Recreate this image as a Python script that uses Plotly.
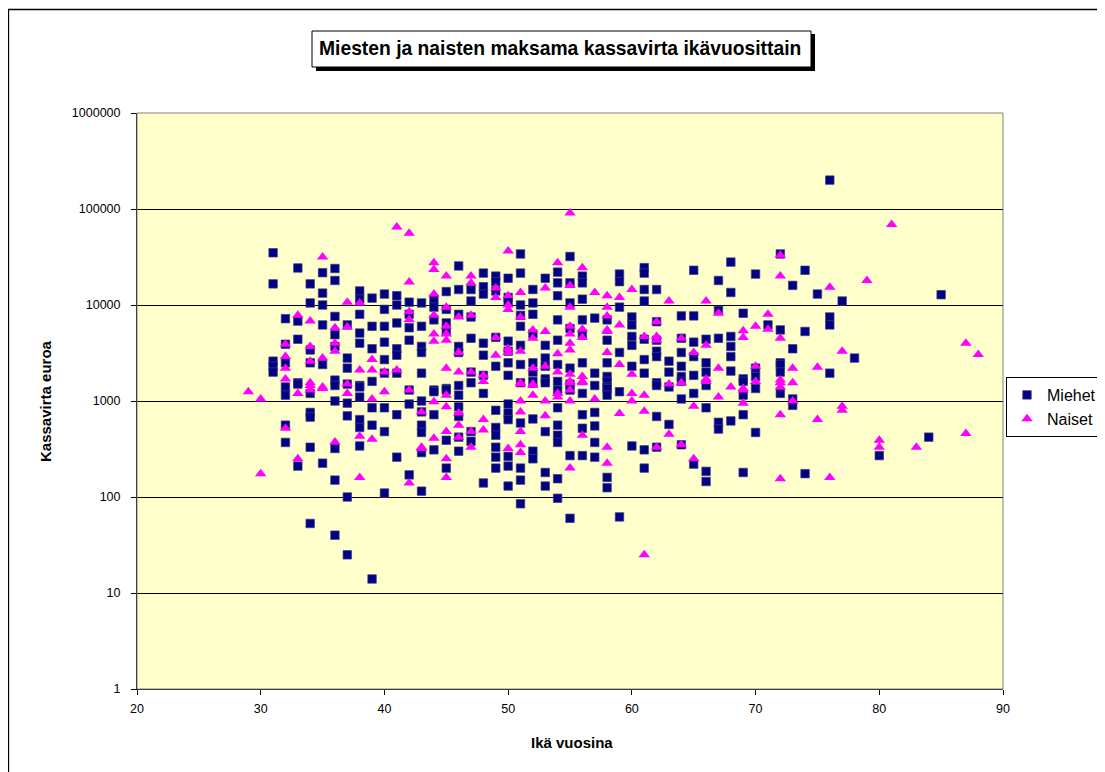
import plotly.graph_objects as go

# ---------------- data (age -> cash flow values) ----------------
men = {
    31: [35000, 16600, 2600, 2300, 2000],
    32: [7200, 3900, 2500, 1400, 1150, 560, 370],
    33: [24300, 6800, 4400, 1550, 1500, 210],
    34: [16600, 10500, 3400, 2500, 1200, 760, 680, 330, 53],
    35: [21700, 13300, 10000, 6200, 2400, 225],
    36: [24000, 18000, 7600, 4900, 3700, 1650, 1450, 1000, 320, 150, 40],
    37: [6200, 2800, 2200, 1500, 950, 700, 100, 25],
    38: [14000, 11500, 8000, 5100, 4000, 1450, 1400, 1100, 640, 530, 340],
    39: [11800, 6000, 3500, 1600, 850, 560, 14],
    40: [13000, 9000, 6000, 4100, 2700, 1950, 850, 480, 110],
    41: [12500, 10000, 6500, 3500, 3000, 1950, 720, 260],
    42: [10700, 8000, 5800, 4300, 1300, 930, 170],
    43: [10500, 6000, 3700, 3200, 1950, 1000, 770, 560, 470, 290, 115],
    44: [11500, 9500, 7000, 1300, 1250, 720, 310],
    45: [13800, 9000, 6500, 5300, 1350, 1300, 390, 200],
    46: [25500, 14500, 8000, 3700, 3200, 1450, 1150, 870, 690, 420, 300],
    47: [14500, 11000, 7500, 4500, 2000, 1550, 480, 380],
    48: [21500, 15500, 13000, 4000, 3000, 1850, 1200, 140],
    49: [20000, 17500, 14000, 4600, 2300, 800, 530, 440, 330, 260, 200],
    50: [19000, 12000, 11000, 4200, 3300, 2500, 1850, 930, 750, 640, 265, 210, 130],
    51: [34000, 21500, 10000, 7800, 6000, 3800, 2400, 1550, 590, 200, 150, 85],
    52: [14500, 10500, 8000, 5000, 2500, 2000, 1600, 650, 300, 250],
    53: [19000, 3800, 2800, 2300, 1700, 1550, 480, 180, 130],
    54: [22000, 17000, 12500, 7000, 4300, 2400, 1600, 1300, 850, 560, 440, 370, 155, 97],
    55: [32000, 17000, 10500, 5700, 2200, 1500, 1300, 270, 60],
    56: [20000, 17000, 11500, 7000, 5000, 2500, 1200, 720, 520, 270],
    57: [7300, 1950, 1450, 760, 550, 370, 260],
    58: [7000, 4300, 2500, 1800, 1600, 1400, 1350, 1150, 160, 125],
    59: [21000, 17500, 9500, 3200, 1250, 62],
    60: [7500, 6200, 4700, 3800, 2300, 340],
    61: [24500, 21500, 14500, 11000, 4400, 2700, 1950, 310, 200],
    62: [14500, 6700, 4300, 3300, 2900, 1550, 1450, 690, 330],
    63: [2600, 2000, 1400, 570],
    64: [7700, 4500, 3200, 2300, 1800, 1600, 1050, 350],
    65: [23000, 7700, 4100, 2900, 1850, 1200, 220],
    66: [4400, 2500, 2000, 1450, 850, 185, 145],
    67: [18000, 8800, 4500, 600, 510],
    68: [28000, 13500, 4700, 3700, 2900, 2050, 620],
    69: [8200, 1700, 1600, 1150, 720, 180],
    70: [21000, 2200, 1800, 1350, 470],
    71: [6200],
    72: [34000, 5500, 2500, 2400, 2000, 1200],
    73: [16000, 3500, 1050, 900],
    74: [23000, 5300, 175],
    75: [13000],
    76: [200000, 7500, 6200, 1950],
    77: [11000],
    78: [2800],
    80: [270],
    84: [420],
    85: [12800],
}

women = {
    29: [1250],
    30: [1050, 175],
    32: [3900, 2900, 2200, 1700, 520],
    33: [7800, 1200, 250],
    34: [6800, 3700, 2600, 1550, 1450, 1300],
    35: [31600, 2800, 1400, 1350],
    36: [5800, 4000, 3300, 375],
    37: [10700, 5900, 1500, 1200],
    38: [10500, 2100, 430, 160],
    39: [2700, 2100, 1050, 400],
    40: [2000, 1250],
    41: [65000, 2100],
    42: [56000, 17400, 8500, 7000, 1300, 140],
    43: [770, 330, 320],
    44: [27500, 23500, 13000, 7800, 5000, 4200, 980, 410],
    45: [20000, 9500, 6000, 5000, 4300, 2200, 1150, 870, 480, 250, 160],
    46: [7500, 3200, 2000, 750, 560, 420],
    47: [20000, 17000, 7800, 2000, 480, 330],
    48: [1850, 1600, 640, 500],
    49: [15000, 12000, 4600, 3000],
    50: [36500, 12500, 10000, 9000, 3500, 3200, 320],
    51: [13500, 7500, 3300, 1550, 1500, 1000, 770, 480, 350, 290],
    52: [5500, 4500, 2200, 1500, 1450, 1150],
    53: [15000, 5300, 2300, 1000, 700],
    54: [27500, 3100, 2000, 1200, 1100],
    55: [91000, 16000, 9500, 6000, 5000, 4000, 3400, 1900, 1600, 1550, 1300, 1000, 200],
    56: [24500, 5600, 4600, 1800, 1600, 1550, 440],
    57: [13500, 1050],
    58: [12500, 9500, 7700, 5500, 5300, 3200, 330, 225],
    59: [12000, 6200, 2400, 740],
    60: [14500, 1900, 1200, 1000],
    61: [4700, 1150, 780, 25],
    62: [6700, 4700, 4300, 330],
    63: [11000, 1500, 450],
    64: [4500, 1550, 350],
    65: [3200, 880, 250],
    66: [11000, 3800, 1700, 1600],
    67: [8200, 2200, 1100],
    68: [1400],
    69: [5400, 4600, 1350, 1300, 950],
    70: [6000, 2300, 1600],
    71: [8000, 5600],
    72: [33000, 20000, 4500, 1650, 1550, 1400, 720, 155],
    73: [2200, 1550, 1000],
    75: [2250, 640],
    76: [15300, 160],
    77: [3300, 880, 800],
    79: [18000],
    80: [390, 330],
    81: [69000],
    83: [330],
    87: [4000, 460],
    88: [3050],
}

men_age = [a for a, vals in men.items() for _ in vals]
men_val = [v for vals in men.values() for v in vals]
women_age = [a for a, vals in women.items() for _ in vals]
women_val = [v for vals in women.values() for v in vals]

y_tickvals = [1, 10, 100, 1000, 10000, 100000, 1000000]
y_ticktext = ["1", "10", "100", "1000", "10000", "100000", "1000000"]
x_tickvals = [20, 30, 40, 50, 60, 70, 80, 90]

title_text = "Miesten ja naisten maksama kassavirta ikävuosittain"
x_title = "Ikä vuosina"
y_title = "Kassavirta euroa"

# ---------------- figure ----------------
# page body keeps its default 8px margin, so figure coordinates = screen - 8
OFF = 8
W, H = 1105 - OFF, 772 - OFF
L, R, T, B = 137, 1003, 113, 689          # plot area in screen pixels


def px(sx):
    return (sx - L) / (R - L)


def py(sy):
    return (B - sy) / (B - T)


fig = go.Figure()
fig.add_trace(go.Scatter(
    x=men_age, y=men_val, mode="markers", name="Miehet",
    marker=dict(symbol="square", size=8.5, color="#000080",
                line=dict(width=0.7, color="#3c3c8c")),
))
fig.add_trace(go.Scatter(
    x=women_age, y=women_val, mode="markers", name="Naiset",
    marker=dict(symbol="triangle-up", size=10, color="#FF00FF",
                line=dict(width=0)),
))

font = "Arial, Liberation Sans, sans-serif"

fig.update_layout(
    width=W, height=H,
    margin=dict(l=L - OFF, r=W - (R - OFF), t=T - OFF, b=H - (B - OFF),
                pad=0, autoexpand=False),
    paper_bgcolor="white",
    plot_bgcolor="#FFFFCC",
    font=dict(family=font, size=12, color="black"),
    showlegend=True,
    legend=dict(
        x=px(1006), y=py(377), xanchor="left", yanchor="top",
        bordercolor="black", borderwidth=1, bgcolor="white",
        font=dict(size=16, family=font), itemsizing="trace",
        itemwidth=30, tracegroupgap=0,
    ),
    xaxis=dict(
        range=[20, 90], tickvals=x_tickvals, showgrid=False, zeroline=False,
        showline=True, linecolor="black", linewidth=1,
        ticks="outside", ticklen=5, tickcolor="black",
        ticklabelstandoff=3,
        tickfont=dict(size=12.5, family=font),
    ),
    yaxis=dict(
        type="log", range=[0, 6], tickvals=y_tickvals, ticktext=y_ticktext,
        showgrid=True, gridcolor="black", gridwidth=1, zeroline=False,
        showline=True, linecolor="black", linewidth=1,
        ticks="outside", ticklen=5, tickcolor="black",
        ticklabelstandoff=8,
        tickfont=dict(size=12.5, family=font),
    ),
)

shapes = []
# plot area border (gray)
shapes.append(dict(type="rect", xref="paper", yref="paper", x0=0, x1=1, y0=0, y1=1,
                   line=dict(color="#808080", width=1), layer="above"))
# outer chart frame (right/bottom run off the page)
shapes.append(dict(type="rect", xref="paper", yref="paper",
                   x0=px(8.5), x1=px(1130), y0=py(800), y1=py(9.5),
                   line=dict(color="black", width=1.3)))
# title box shadow and box
shapes.append(dict(type="rect", xref="paper", yref="paper",
                   x0=px(316), x1=px(815), y0=py(71), y1=py(34),
                   fillcolor="black", line=dict(width=0)))
shapes.append(dict(type="rect", xref="paper", yref="paper",
                   x0=px(312), x1=px(811), y0=py(67), y1=py(31),
                   fillcolor="white", line=dict(color="black", width=1)))
fig.update_layout(shapes=shapes)

fig.add_annotation(text="<b>" + title_text + "</b>", xref="paper", yref="paper",
                   x=px(560), y=py(49), showarrow=False,
                   font=dict(size=19.3, family=font, color="black"),
                   xanchor="center", yanchor="middle")
fig.add_annotation(text="<b>" + x_title + "</b>", xref="paper", yref="paper",
                   x=px(572), y=py(742), showarrow=False,
                   font=dict(size=15, family=font, color="black"),
                   xanchor="center", yanchor="middle")
fig.add_annotation(text="<b>" + y_title + "</b>", xref="paper", yref="paper",
                   x=px(45), y=py(401), showarrow=False, textangle=-90,
                   font=dict(size=15, family=font, color="black"),
                   xanchor="center", yanchor="middle")

fig.write_html("out.html")
